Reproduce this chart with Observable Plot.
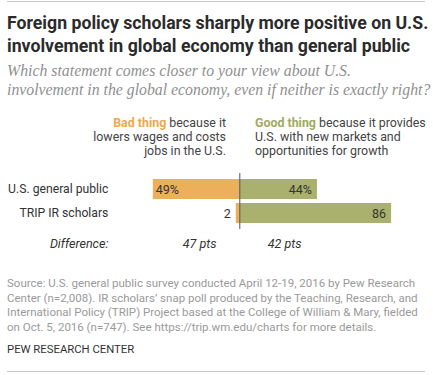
<!DOCTYPE html>
<html>
<head>
<meta charset="utf-8">
<script src="https://cdn.jsdelivr.net/npm/d3@7"></script>
<script src="https://cdn.jsdelivr.net/npm/@observablehq/plot@0.6"></script>
<style>
  html, body { margin: 0; padding: 0; background: #fff; }
  #wrap { position: relative; width: 433px; height: 375px; overflow: hidden; font-family: Roboto, "Liberation Sans", sans-serif; }
  .rule { position: absolute; left: 7px; width: 418px; height: 1px; background: #c8c8c8; }
  #title { position: absolute; left: 7px; top: 12px; white-space: nowrap; font-weight: 700; font-size: 17.7px; line-height: 23px; color: #2b2b2b; }
  #subtitle { position: absolute; left: 7px; top: 61px; white-space: nowrap; font-family: "Liberation Serif", serif; font-style: italic; font-size: 15.8px; line-height: 19px; color: #8f8f8f; }
  .hdr { position: absolute; top: 116px; white-space: nowrap; font-size: 12.4px; line-height: 14px; color: #444; }
  #hdrBad { right: 207px; text-align: right; }
  #hdrGood { left: 255px; text-align: left; }
  #chart { position: absolute; left: 0; top: 160px; }
  #source { position: absolute; left: 7px; top: 276px; white-space: nowrap; font-size: 11.5px; line-height: 14.7px; color: #9a9a9a; }
  #credit { position: absolute; left: 7px; top: 343px; font-size: 11.3px; color: #333; }
</style>
</head>
<body>
<div id="wrap">
  <div class="rule" style="top:1px"></div>
  <div id="title">Foreign policy scholars sharply more positive on U.S.<br>involvement in global economy than general public</div>
  <div id="subtitle">Which statement comes closer to your view about U.S.<br>involvement in the global economy, even if neither is exactly right?</div>
  <div class="hdr" id="hdrBad"><b style="color:#eca94b">Bad thing</b> because it<br>lowers wages and costs<br>jobs in the U.S.</div>
  <div class="hdr" id="hdrGood"><b style="color:#a0aa60">Good thing</b> because it provides<br>U.S. with new markets and<br>opportunities for growth</div>
  <div id="chart"></div>
  <div id="source">Source: U.S. general public survey conducted April 12-19, 2016 by Pew Research<br>Center (n=2,008). IR scholars’ snap poll produced by the Teaching, Research, and<br>International Policy (TRIP) Project based at the College of William &amp; Mary, fielded<br>on Oct. 5, 2016 (n=747). See https://trip.wm.edu/charts for more details.</div>
  <div id="credit">PEW RESEARCH CENTER</div>
  <div class="rule" style="top:371px"></div>
</div>
<script>
const groups = ["U.S. general public", "TRIP IR scholars"];
const badValues = [49, 2];
const goodValues = [44, 86];
const badLabels = ["49%", "2"];
const goodLabels = ["44%", "86"];
const differences = ["47 pts", "42 pts"];
const differenceLabel = "Difference:";

const bad = groups.map((g, i) => ({group: g, value: badValues[i], label: badLabels[i]}));
const good = groups.map((g, i) => ({group: g, value: goodValues[i], label: goodLabels[i]}));

const orange = "#edb05a";
const green = "#aab16e";
const fs = 12.5;

const chart = Plot.plot({
  width: 433,
  height: 100,
  marginLeft: 133.4,
  marginRight: 17.2,
  marginTop: 13,
  marginBottom: 31,
  style: {fontFamily: "Roboto, 'Liberation Sans', sans-serif", fontSize: "12.2px", color: "#333", background: "transparent"},
  x: {domain: [-60, 100], axis: null},
  y: {domain: groups, range: [15, 67], padding: 1/6, label: null, tickSize: 0, tickPadding: 25.5, axis: "left"},
  marks: [
    Plot.barX(bad, {x1: 0, x2: d => -d.value, y: "group", fill: orange}),
    Plot.barX(good, {x1: 0, x2: "value", y: "group", fill: green}),
    Plot.ruleX([0], {stroke: "#555", strokeWidth: 1}),
    Plot.text(bad.filter(d => d.value >= 10), {x: d => -d.value, y: "group", text: "label", textAnchor: "start", dx: 2.5, fill: "#333", fontSize: fs}),
    Plot.text(bad.filter(d => d.value < 10), {x: d => -d.value, y: "group", text: "label", textAnchor: "end", dx: -5.5, fill: "#333", fontSize: fs}),
    Plot.text(good, {x: "value", y: "group", text: "label", textAnchor: "end", dx: -5.5, fill: "#333", fontSize: fs}),
    Plot.text([differenceLabel], {x: () => -60, y: () => groups[1], text: d => d, textAnchor: "end", dx: -25.5, dy: 30, fontStyle: "italic", fill: "#333", fontSize: fs}),
    Plot.text([differences[0]], {x: () => -badValues[0] / 2, y: () => groups[1], text: d => d, dx: 3, dy: 30, fontStyle: "italic", fill: "#333", fontSize: fs}),
    Plot.text([differences[1]], {x: () => goodValues[0] / 2, y: () => groups[1], text: d => d, dx: 6, dy: 30, fontStyle: "italic", fill: "#333", fontSize: fs})
  ]
});
document.getElementById("chart").appendChild(chart);
</script>
</body>
</html>
